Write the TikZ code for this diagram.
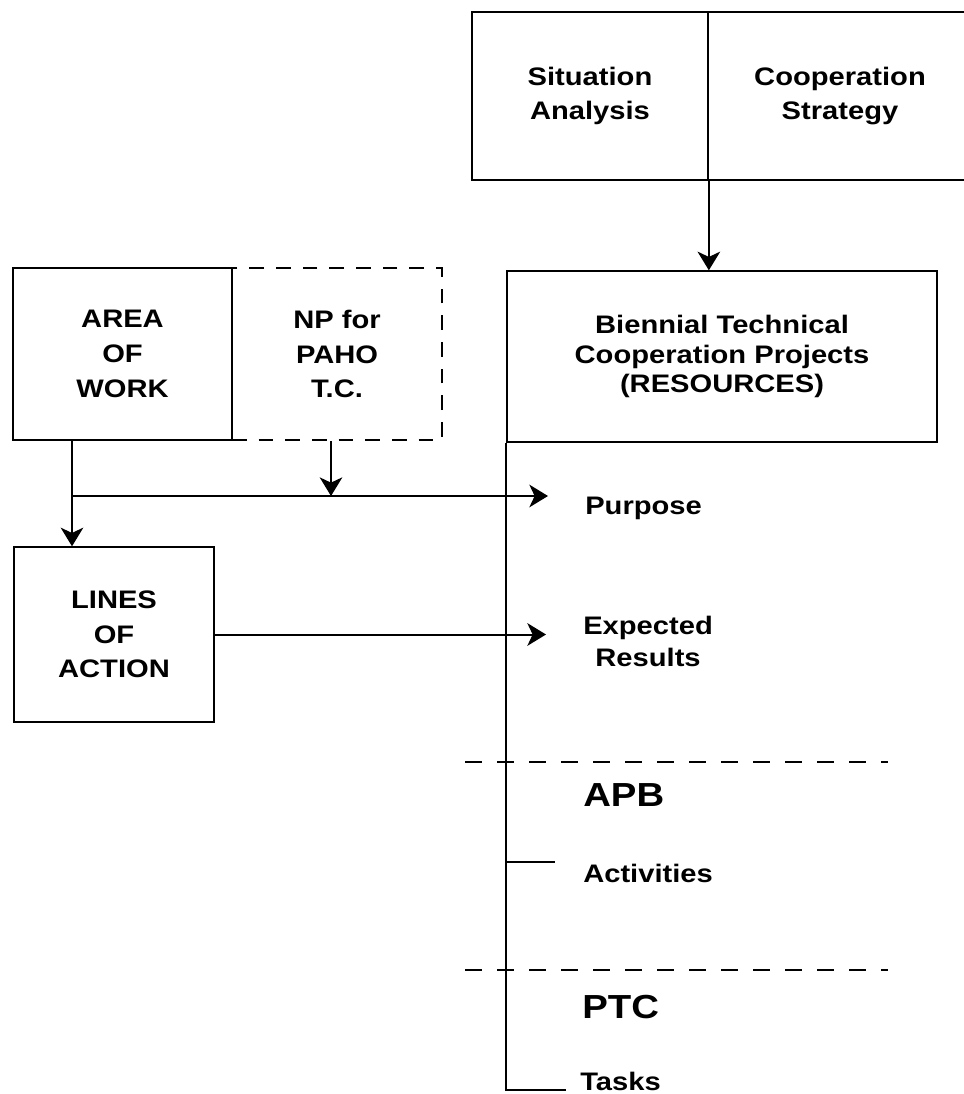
\documentclass[tikz,border=0pt]{standalone}
\usepackage{fontspec}
\newfontfamily\lblfont{Liberation Sans}[FakeStretch=1.15]
\usepackage{tikz}
\usetikzlibrary{calc,positioning,arrows.meta}

\begin{document}
\begin{tikzpicture}[x=0.75pt, y=-0.75pt,
  box/.style = {draw, line width=1.3pt, align=center, inner sep=0pt,
                font=\lblfont\bfseries\fontsize{19}{26}\selectfont},
  lbl/.style = {inner sep=0pt, align=center, font=\lblfont\bfseries\fontsize{19}{24}\selectfont},
  big/.style = {inner sep=0pt, font=\lblfont\bfseries\fontsize{25}{30}\selectfont},
  arr/.style = {line width=1.5pt, -{Stealth[length=14pt, width=17pt, inset=4pt]}},
  sep/.style = {line width=1.5pt, dash pattern=on 13pt off 11pt}]
\useasboundingbox (0,0) rectangle (963,1094);

\node[box, minimum width=177pt, minimum height=126pt] (sit) at (590,96) {Situation\\Analysis};
\node[box, minimum width=198pt, minimum height=126pt] (coop) at (840,96) {Cooperation\\Strategy};
\node[box, minimum width=322.5pt, minimum height=128pt, font=\lblfont\bfseries\fontsize{19}{22}\selectfont]
  (bien) at (722,356.5) {Biennial Technical\\Cooperation Projects\\(RESOURCES)};

\node[box, dash pattern=on 11pt off 9pt, minimum width=157.5pt, minimum height=129pt] (np) at (337,354) {NP for\\PAHO\\T.C.};
\node[box, minimum width=164pt, minimum height=129pt] (area) at (122.5,354) {AREA\\OF\\WORK};
\node[box, minimum width=150pt, minimum height=131pt] (lines) at (114,634.5) {LINES\\OF\\ACTION};

\coordinate (fork) at (72,496);
\coordinate (npIn) at (331,496);
\coordinate (purpEnd) at (548,496);
\coordinate (resEnd) at (546,638);
\coordinate (actEnd) at (555,862);
\coordinate (taskEnd) at (566,1090);

\node[lbl, anchor=north west] (purp) at (585,497) {Purpose};
\node[lbl, anchor=west] (res) at (583,641) {Expected\\Results};
\node[big, anchor=west] (apb) at (583,795) {APB};
\node[lbl, anchor=north west] (act) at (583,864) {Activities};
\node[big, anchor=west] (ptc) at (582,1007) {PTC};
\node[lbl, anchor=base west] (tasks) at (580,1090) {Tasks};

\draw[arr] (sit.south east) -- (sit.south east |- bien.north);
\draw[line width=1pt] (fork |- area.south) -- (fork);
\draw[arr, line width=1pt] (fork) -- (fork |- lines.north);
\draw[arr] (fork) -- (purpEnd);
\draw[arr, line width=1pt] (npIn |- np.south) -- (npIn);
\draw[arr] (lines.east) -- (lines.east -| resEnd);

\draw[line width=1pt] (bien.south west) |- (taskEnd);
\draw[line width=1pt] (bien.south west |- actEnd) -- (actEnd);

\foreach \y in {762,970}
  \draw[sep] (465,\y) -- (888,\y);

\end{tikzpicture}
\end{document}
